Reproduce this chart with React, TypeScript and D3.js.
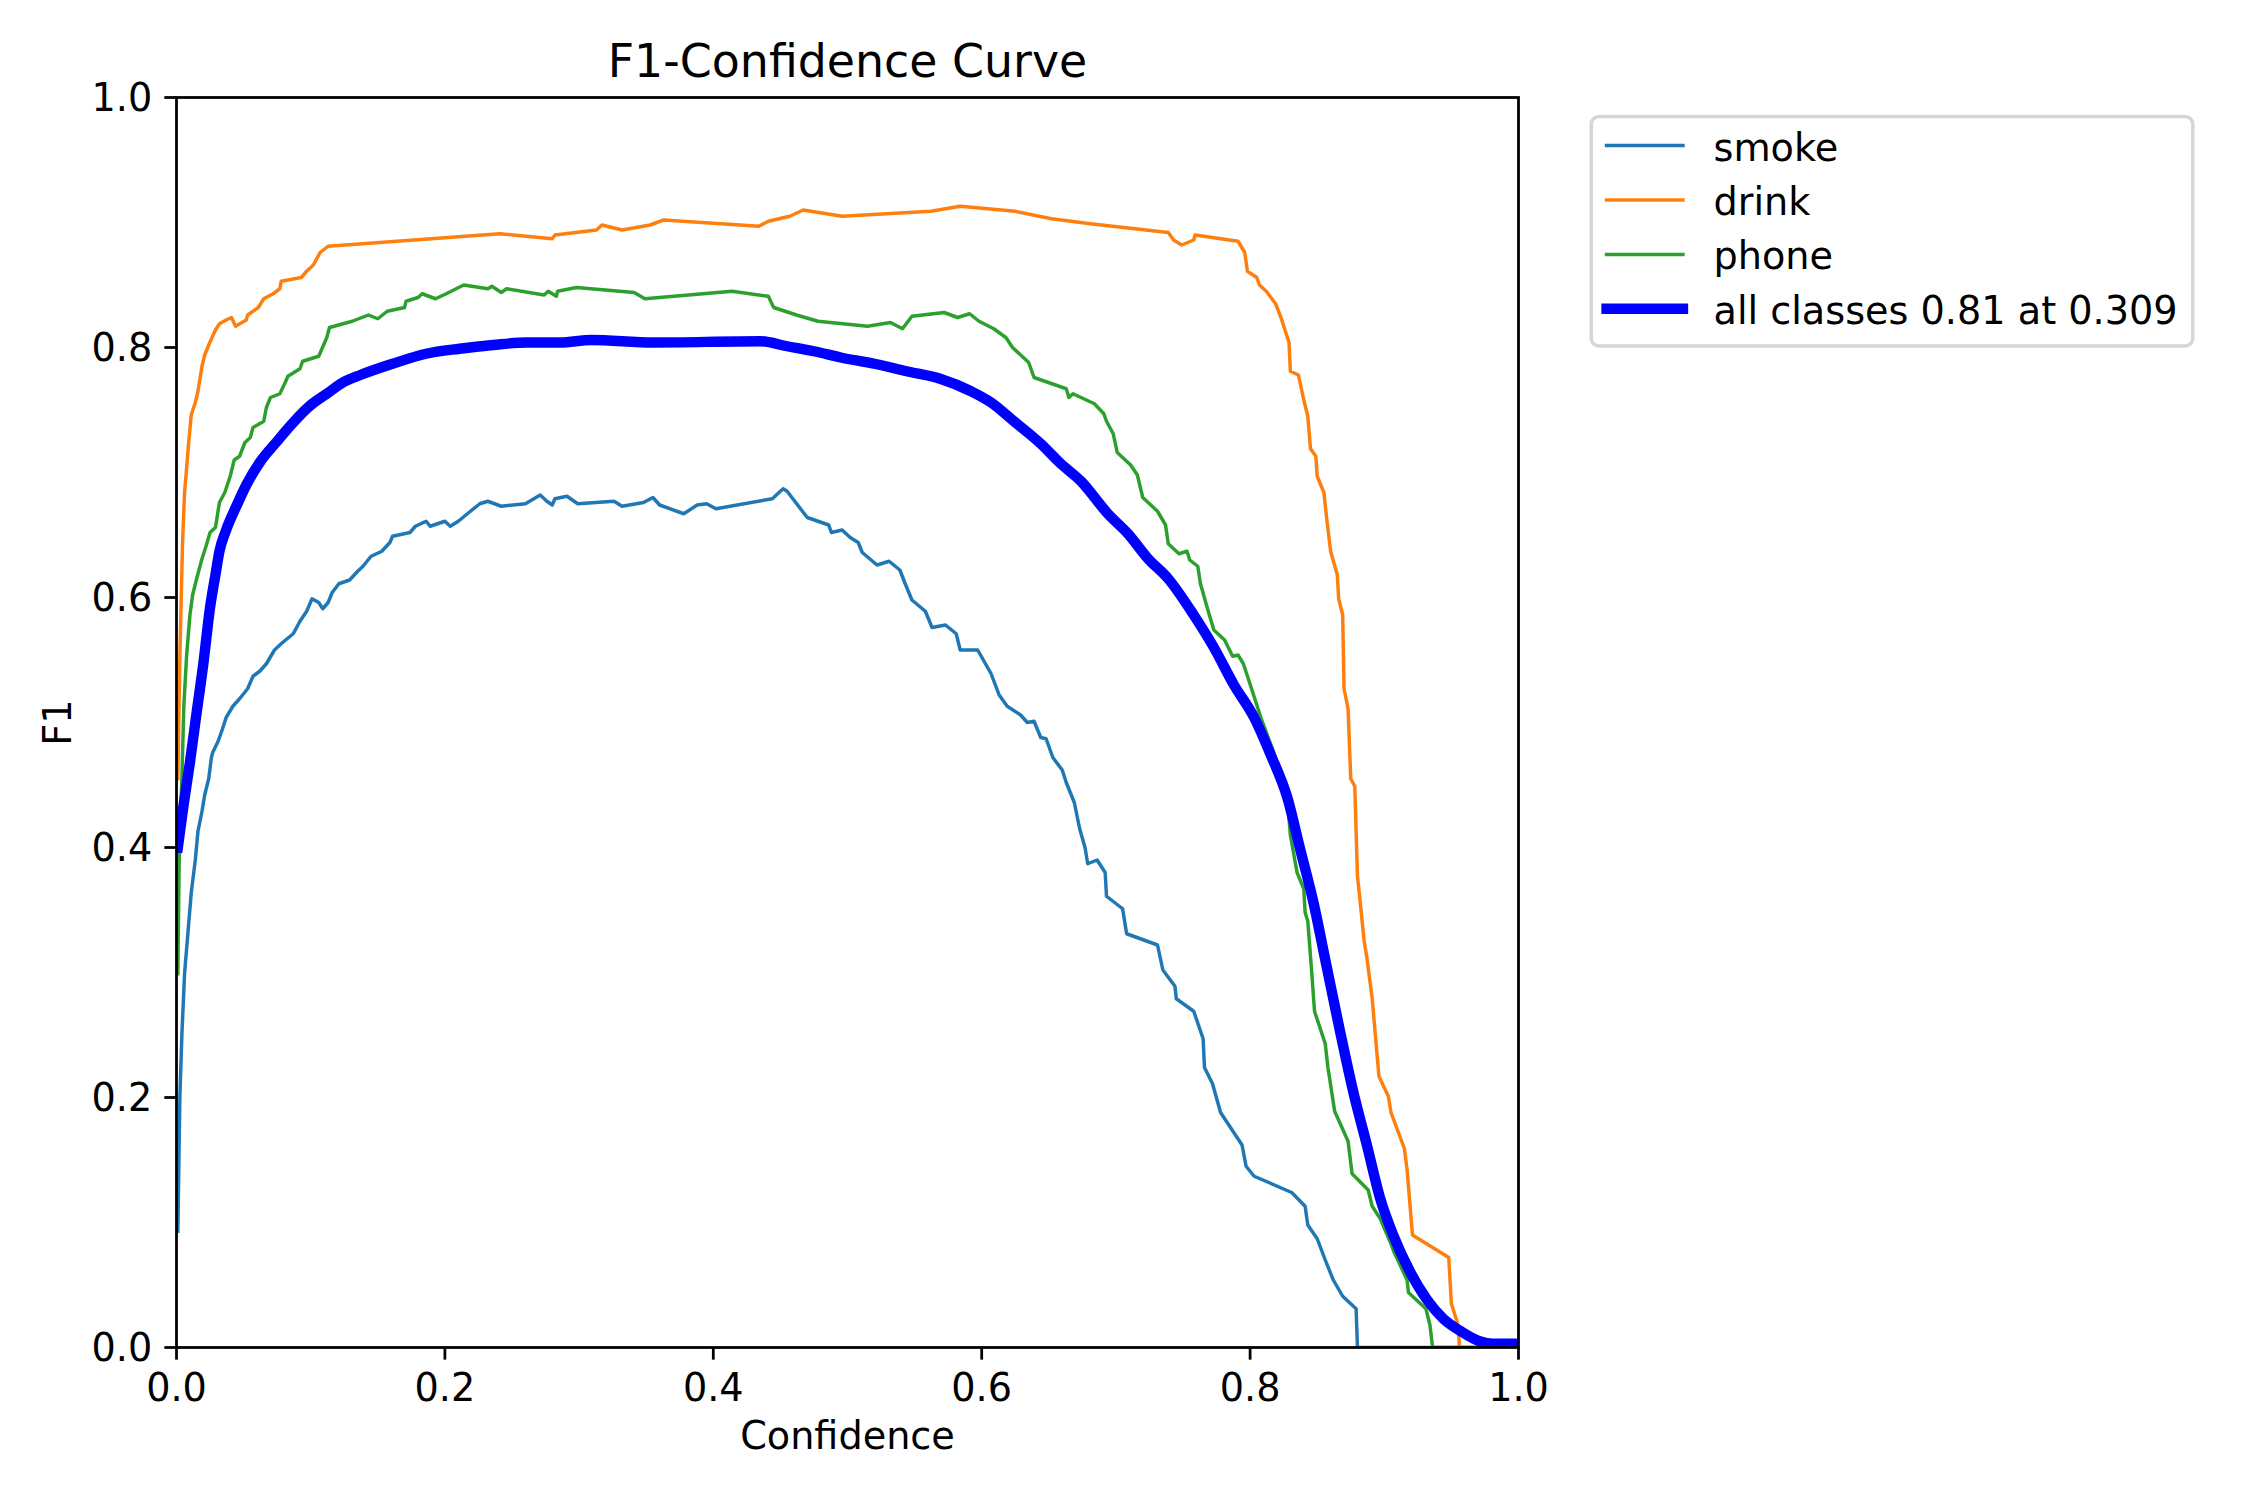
import React from 'react';
import * as d3 from 'd3';

// F1 per confidence
const classNames = ['smoke', 'drink', 'phone'];
const allLabel = 'all classes 0.81 at 0.309';

const smokeF1: [number, number][] = [
  [0.001, 0.093], [0.0025, 0.2], [0.004, 0.25], [0.006, 0.299], [0.009, 0.338], [0.011, 0.364], [0.014, 0.39],
  [0.016, 0.413], [0.019, 0.429], [0.021, 0.442], [0.024, 0.455], [0.026, 0.472], [0.027, 0.476], [0.031, 0.485],
  [0.034, 0.494], [0.037, 0.504], [0.042, 0.513], [0.047, 0.519], [0.053, 0.527], [0.057, 0.537], [0.062, 0.541],
  [0.067, 0.547], [0.073, 0.558], [0.079, 0.564], [0.087, 0.571], [0.092, 0.581], [0.097, 0.589], [0.101, 0.599],
  [0.106, 0.596], [0.109, 0.591], [0.113, 0.596], [0.116, 0.604], [0.121, 0.611], [0.129, 0.614], [0.135, 0.621],
  [0.139, 0.625], [0.145, 0.633], [0.153, 0.637], [0.159, 0.644], [0.161, 0.649], [0.174, 0.652], [0.178, 0.657],
  [0.186, 0.661], [0.189, 0.657], [0.2, 0.661], [0.204, 0.657], [0.21, 0.661], [0.219, 0.669], [0.226, 0.675],
  [0.232, 0.677], [0.242, 0.673], [0.26, 0.675], [0.271, 0.682], [0.276, 0.677], [0.28, 0.674], [0.282, 0.679],
  [0.291, 0.681], [0.299, 0.675], [0.326, 0.677], [0.332, 0.673], [0.348, 0.676], [0.355, 0.68], [0.36, 0.674],
  [0.378, 0.667], [0.388, 0.674], [0.395, 0.675], [0.402, 0.671], [0.444, 0.679], [0.452, 0.687], [0.455, 0.685],
  [0.47, 0.664], [0.486, 0.658], [0.488, 0.652], [0.496, 0.654], [0.502, 0.648], [0.508, 0.644], [0.511, 0.636],
  [0.522, 0.626], [0.531, 0.629], [0.539, 0.622], [0.543, 0.611], [0.548, 0.598], [0.558, 0.589], [0.563, 0.576],
  [0.573, 0.578], [0.581, 0.571], [0.584, 0.558], [0.597, 0.558], [0.607, 0.539], [0.613, 0.522], [0.619, 0.513],
  [0.629, 0.506], [0.634, 0.5], [0.639, 0.501], [0.644, 0.488], [0.648, 0.487], [0.653, 0.472], [0.66, 0.462],
  [0.663, 0.452], [0.669, 0.436], [0.673, 0.415], [0.677, 0.4], [0.679, 0.387], [0.686, 0.39], [0.692, 0.38],
  [0.693, 0.361], [0.705, 0.351], [0.708, 0.331], [0.731, 0.322], [0.735, 0.302], [0.744, 0.289], [0.745, 0.279],
  [0.758, 0.269], [0.765, 0.247], [0.766, 0.224], [0.772, 0.211], [0.778, 0.188], [0.794, 0.162], [0.797, 0.145],
  [0.803, 0.137], [0.831, 0.124], [0.841, 0.113], [0.843, 0.098], [0.85, 0.087], [0.856, 0.07], [0.862, 0.054],
  [0.869, 0.041], [0.879, 0.031], [0.88, 0], [1.0, 0],
];

const drinkF1: [number, number][] = [
  [0.001, 0.455], [0.0025, 0.553], [0.0045, 0.644], [0.006, 0.684], [0.0075, 0.703], [0.009, 0.723], [0.011, 0.746],
  [0.014, 0.756], [0.016, 0.765], [0.019, 0.785], [0.021, 0.794], [0.024, 0.802], [0.029, 0.814], [0.032, 0.819],
  [0.037, 0.822], [0.041, 0.824], [0.044, 0.817], [0.052, 0.822], [0.053, 0.826], [0.061, 0.832], [0.065, 0.839],
  [0.072, 0.843], [0.077, 0.847], [0.078, 0.853], [0.093, 0.856], [0.097, 0.861], [0.102, 0.866], [0.107, 0.876],
  [0.113, 0.881], [0.241, 0.891], [0.28, 0.887], [0.282, 0.89], [0.313, 0.894], [0.317, 0.898], [0.332, 0.894],
  [0.353, 0.898], [0.363, 0.902], [0.434, 0.897], [0.441, 0.901], [0.457, 0.905], [0.467, 0.91], [0.496, 0.905],
  [0.562, 0.909], [0.584, 0.913], [0.625, 0.909], [0.652, 0.903], [0.681, 0.899], [0.739, 0.892], [0.743, 0.886],
  [0.749, 0.882], [0.758, 0.886], [0.759, 0.89], [0.791, 0.885], [0.796, 0.876], [0.798, 0.861], [0.805, 0.856],
  [0.807, 0.85], [0.812, 0.845], [0.819, 0.835], [0.823, 0.824], [0.829, 0.804], [0.83, 0.781], [0.836, 0.778],
  [0.84, 0.758], [0.843, 0.745], [0.845, 0.719], [0.849, 0.713], [0.85, 0.697], [0.855, 0.684], [0.857, 0.664],
  [0.86, 0.637], [0.865, 0.618], [0.866, 0.599], [0.869, 0.586], [0.87, 0.527], [0.873, 0.511], [0.875, 0.455],
  [0.878, 0.449], [0.88, 0.377], [0.882, 0.357], [0.885, 0.325], [0.887, 0.312], [0.891, 0.279], [0.896, 0.217],
  [0.903, 0.201], [0.905, 0.188], [0.915, 0.159], [0.917, 0.142], [0.921, 0.09], [0.948, 0.072], [0.95, 0.035],
  [0.955, 0.018], [0.956, 0], [1.0, 0],
];

const phoneF1: [number, number][] = [
  [0.001, 0.299], [0.002, 0.39], [0.004, 0.455], [0.0055, 0.514], [0.0075, 0.553], [0.01, 0.586], [0.012, 0.602],
  [0.015, 0.615], [0.019, 0.631], [0.022, 0.641], [0.025, 0.652], [0.029, 0.656], [0.032, 0.676], [0.036, 0.684],
  [0.04, 0.697], [0.043, 0.71], [0.047, 0.713], [0.051, 0.724], [0.055, 0.728], [0.057, 0.736], [0.065, 0.741],
  [0.067, 0.752], [0.07, 0.76], [0.077, 0.763], [0.081, 0.772], [0.083, 0.777], [0.092, 0.783], [0.094, 0.789],
  [0.106, 0.793], [0.108, 0.798], [0.112, 0.808], [0.114, 0.816], [0.131, 0.821], [0.143, 0.826], [0.15, 0.823],
  [0.157, 0.829], [0.17, 0.832], [0.171, 0.837], [0.18, 0.84], [0.183, 0.843], [0.193, 0.839], [0.201, 0.843],
  [0.214, 0.85], [0.232, 0.847], [0.235, 0.849], [0.242, 0.844], [0.246, 0.847], [0.274, 0.842], [0.277, 0.845],
  [0.283, 0.841], [0.284, 0.845], [0.298, 0.848], [0.341, 0.844], [0.349, 0.839], [0.414, 0.845], [0.441, 0.841],
  [0.445, 0.832], [0.462, 0.826], [0.478, 0.821], [0.515, 0.817], [0.532, 0.82], [0.541, 0.815], [0.548, 0.825],
  [0.572, 0.828], [0.582, 0.824], [0.591, 0.827], [0.598, 0.821], [0.609, 0.815], [0.618, 0.808], [0.623, 0.8],
  [0.635, 0.788], [0.639, 0.776], [0.663, 0.767], [0.665, 0.76], [0.668, 0.763], [0.684, 0.755], [0.691, 0.747],
  [0.693, 0.741], [0.698, 0.731], [0.701, 0.716], [0.711, 0.706], [0.716, 0.698], [0.72, 0.68], [0.731, 0.669],
  [0.737, 0.658], [0.739, 0.643], [0.747, 0.635], [0.753, 0.637], [0.755, 0.63], [0.761, 0.625], [0.763, 0.611],
  [0.768, 0.592], [0.773, 0.574], [0.781, 0.566], [0.787, 0.553], [0.791, 0.554], [0.795, 0.547], [0.802, 0.524],
  [0.808, 0.504], [0.818, 0.475], [0.828, 0.436], [0.83, 0.41], [0.835, 0.38], [0.84, 0.367], [0.841, 0.348],
  [0.843, 0.341], [0.846, 0.299], [0.848, 0.269], [0.856, 0.243], [0.858, 0.224], [0.863, 0.189], [0.873, 0.165],
  [0.876, 0.139], [0.888, 0.126], [0.891, 0.113], [0.897, 0.103], [0.905, 0.083], [0.907, 0.077], [0.917, 0.054],
  [0.918, 0.044], [0.931, 0.031], [0.934, 0.018], [0.936, 0], [1.0, 0],
];

const allClassesF1: [number, number][] = [
  [0.001, 0.4], [0.005, 0.432], [0.01, 0.468], [0.015, 0.508], [0.02, 0.547], [0.025, 0.592], [0.029, 0.618],
  [0.032, 0.637], [0.037, 0.654], [0.045, 0.674], [0.052, 0.69], [0.062, 0.708], [0.075, 0.725], [0.087, 0.74],
  [0.099, 0.753], [0.112, 0.763], [0.124, 0.772], [0.137, 0.778], [0.161, 0.787], [0.186, 0.795], [0.211, 0.799],
  [0.236, 0.802], [0.261, 0.804], [0.286, 0.804], [0.309, 0.806], [0.355, 0.804], [0.435, 0.805], [0.455, 0.801],
  [0.475, 0.797], [0.495, 0.792], [0.52, 0.787], [0.544, 0.781], [0.569, 0.775], [0.592, 0.765], [0.607, 0.756],
  [0.624, 0.741], [0.644, 0.723], [0.659, 0.707], [0.674, 0.693], [0.694, 0.667], [0.709, 0.651], [0.724, 0.631],
  [0.739, 0.615], [0.758, 0.586], [0.773, 0.56], [0.788, 0.53], [0.803, 0.504], [0.815, 0.475], [0.828, 0.439],
  [0.837, 0.4], [0.847, 0.357], [0.857, 0.305], [0.867, 0.253], [0.877, 0.204], [0.887, 0.162], [0.897, 0.119],
  [0.907, 0.089], [0.919, 0.061], [0.932, 0.038], [0.944, 0.023], [0.957, 0.013], [0.971, 0.005], [0.981, 0.003],
  [1.0, 0.003],
];

const xTicks = [0, 0.2, 0.4, 0.6, 0.8, 1.0];
const yTicks = [0, 0.2, 0.4, 0.6, 0.8, 1.0];

// matplotlib tab10 + plain blue for the mean curve
const classColors = ['#1f77b4', '#ff7f0e', '#2ca02c'];
const allColor = '#0000ff';

const W = 2250;
const H = 1500;
const PT = 250 / 72; // px per point at dpi 250
const FS = 11 * PT; // base font size
const FONT = '"DejaVu Sans", sans-serif';

export default function App() {
  const margin = { left: 176.5, right: 731.5, top: 97.5, bottom: 152.5 };
  const x0 = margin.left;
  const x1 = W - margin.right;
  const y0 = margin.top;
  const y1 = H - margin.bottom;

  const x = d3.scaleLinear().domain([0, 1]).range([x0, x1]);
  const y = d3.scaleLinear().domain([0, 1]).range([y1, y0]);
  const fmt = d3.format('.1f');

  const line = d3.line<[number, number]>()
    .x(d => x(d[0]))
    .y(d => y(d[1]));
  const smoothLine = d3.line<[number, number]>()
    .x(d => x(d[0]))
    .y(d => y(d[1]))
    .curve(d3.curveMonotoneX);

  const series = [smokeF1, drinkF1, phoneF1];

  const tickLen = 3.5 * PT;
  const tickPad = 3.5 * PT;
  const axisW = 0.8 * PT;

  // legend layout (matplotlib defaults, in font-size units)
  const legLeft = x(1.04) + 0.5 * FS;
  const legTop = y0 + 0.5 * FS;
  const legPad = 0.4 * FS;
  const handleLen = 2.0 * FS;
  const handleGap = 0.8 * FS;
  const rowPitch = 54.4;
  const legW = 601.5;
  const legH = 229.4;
  const legendItems = [
    ...classNames.map((n, i) => ({ label: n, color: classColors[i], width: 1 * PT })),
    { label: allLabel, color: allColor, width: 3 * PT },
  ];

  return (
    <svg width={W} height={H} style={{ position: 'absolute', left: 0, top: 0, background: '#fff' }}
      fontFamily={FONT}>
      <defs>
        <clipPath id="plot-clip">
          <rect x={x0} y={y0} width={x1 - x0} height={y1 - y0} />
        </clipPath>
      </defs>
      <rect x={0} y={0} width={W} height={H} fill="#fff" />

      <g clipPath="url(#plot-clip)" fill="none" strokeLinejoin="round" strokeLinecap="square">
        {series.map((s, i) => (
          <path key={classNames[i]} d={line(s) ?? ''} stroke={classColors[i]} strokeWidth={1 * PT} />
        ))}
        <path d={smoothLine(allClassesF1) ?? ''} stroke={allColor} strokeWidth={3 * PT} />
      </g>

      {/* spines */}
      <rect x={x0} y={y0} width={x1 - x0} height={y1 - y0} fill="none" stroke="#000" strokeWidth={axisW}
        strokeLinejoin="miter" />

      {/* x ticks */}
      {xTicks.map(t => (
        <g key={`x${t}`}>
          <line x1={x(t)} x2={x(t)} y1={y1} y2={y1 + tickLen} stroke="#000" strokeWidth={axisW} />
          <text x={x(t)} y={y1 + tickLen + tickPad + 0.76 * FS} fontSize={FS} textAnchor="middle">{fmt(t)}</text>
        </g>
      ))}
      {/* y ticks */}
      {yTicks.map(t => (
        <g key={`y${t}`}>
          <line x1={x0 - tickLen} x2={x0} y1={y(t)} y2={y(t)} stroke="#000" strokeWidth={axisW} />
          <text x={x0 - tickLen - tickPad} y={y(t) + 0.365 * FS} fontSize={FS} textAnchor="end">{fmt(t)}</text>
        </g>
      ))}

      <text x={(x0 + x1) / 2} y={1449} fontSize={FS} textAnchor="middle">Confidence</text>
      <text transform={`translate(71, ${(y0 + y1) / 2}) rotate(-90)`} fontSize={FS} textAnchor="middle">F1</text>
      <text x={(x0 + x1) / 2} y={y0 - 6 * PT} fontSize={FS * 1.2} textAnchor="middle">F1-Confidence Curve</text>

      {/* legend */}
      <g>
        <rect x={legLeft} y={legTop} width={legW} height={legH} rx={0.2 * FS} ry={0.2 * FS}
          fill="#fff" fillOpacity={0.8} stroke="#cccccc" strokeOpacity={0.8} strokeWidth={1 * PT} />
        {legendItems.map((it, i) => {
          const cy = 145.6 + i * rowPitch;
          return (
            <g key={it.label}>
              <line x1={legLeft + legPad} x2={legLeft + legPad + handleLen} y1={cy} y2={cy}
                stroke={it.color} strokeWidth={it.width} strokeLinecap="square" />
              <text x={legLeft + legPad + handleLen + handleGap} y={cy + 15} fontSize={FS}>{it.label}</text>
            </g>
          );
        })}
      </g>
    </svg>
  );
}
